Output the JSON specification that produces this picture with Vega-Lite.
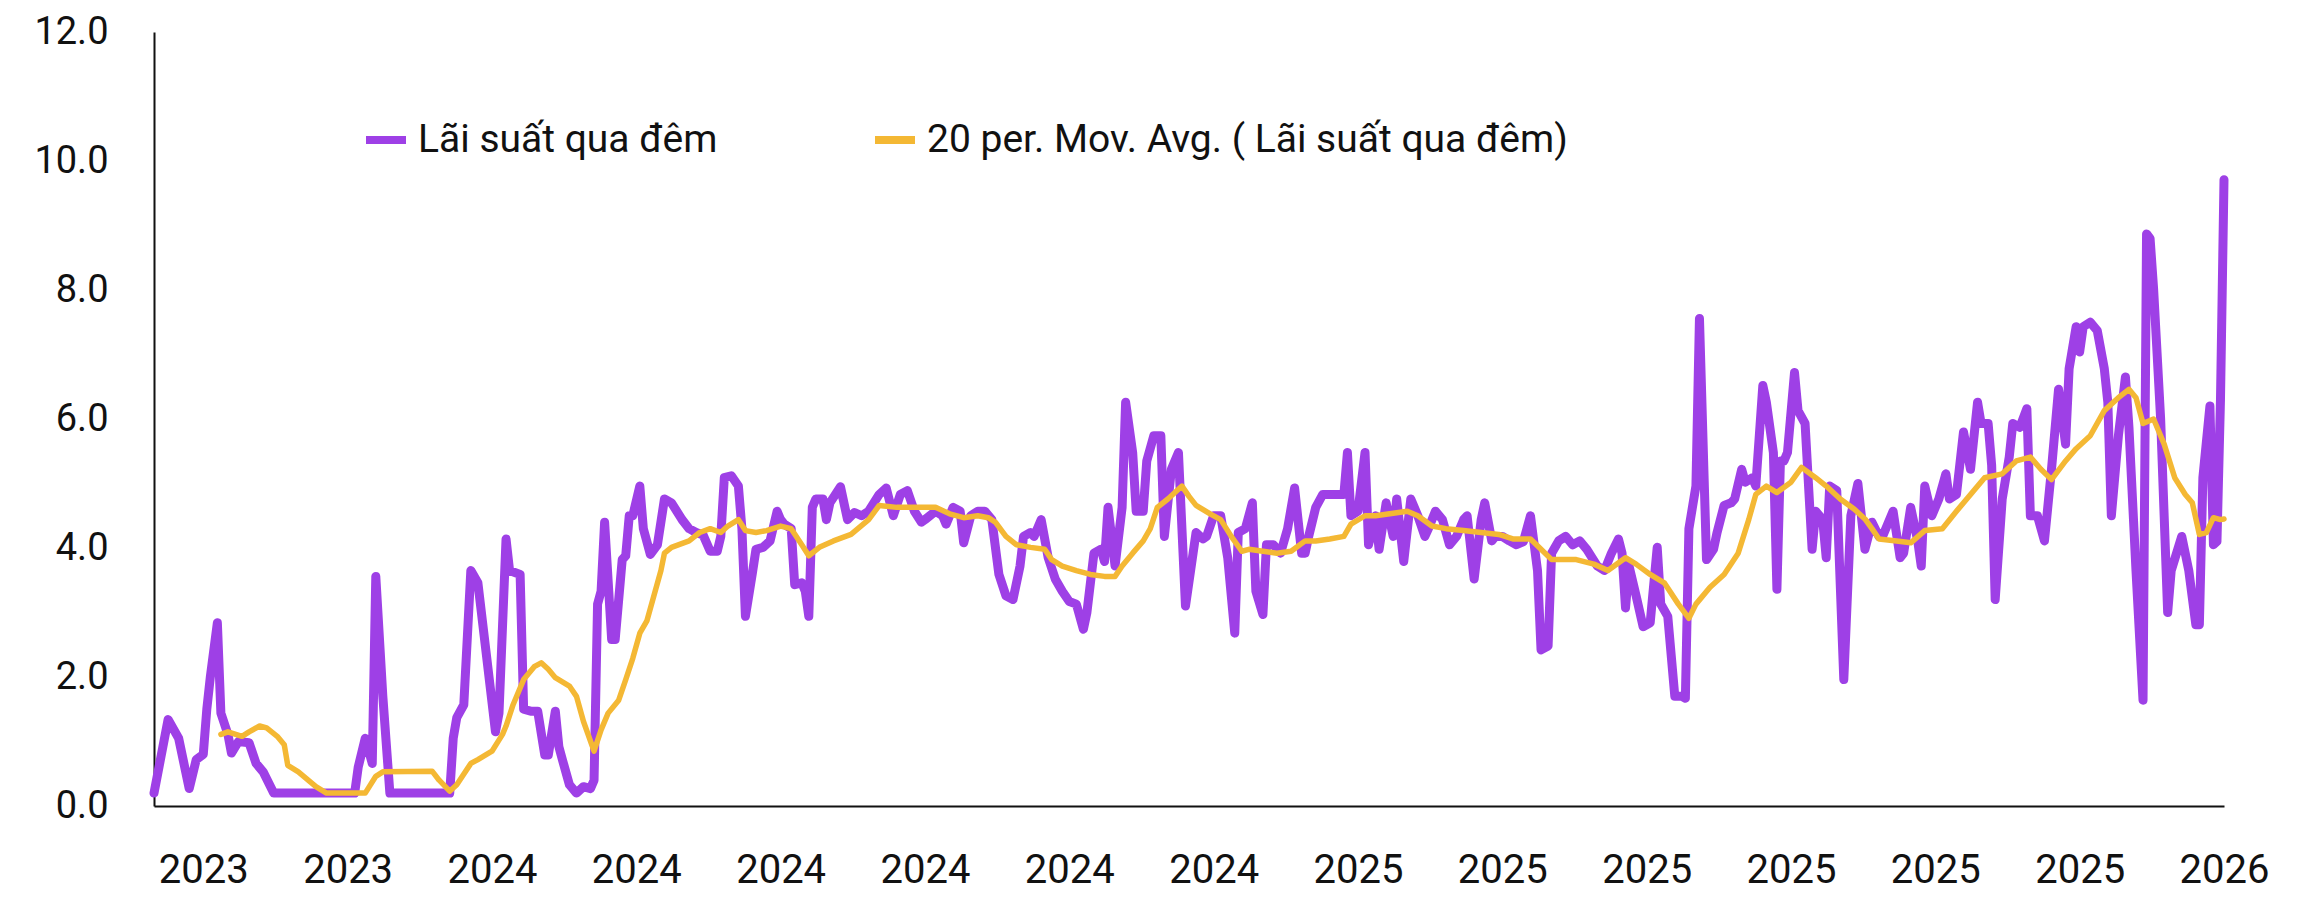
{
  "$schema": "https://vega.github.io/schema/vega-lite/v6.json",
  "width": 2070,
  "height": 774,
  "autosize": {"type": "none"},
  "padding": {"left": 154, "top": 32, "right": 77, "bottom": 95},
  "background": "white",
  "config": {
    "view": {"stroke": null},
    "axis": {"grid": false, "ticks": false, "domainColor": "#111111", "domainWidth": 2, "labelColor": "#111111", "title": null},
    "legend": {"padding": 0}
  },
  "datasets": {
    "rate": [
      {"t":0,"v":0.2},{"t":4,"v":1.34},{"t":7,"v":1.05},{"t":10,"v":0.27},{"t":12,"v":0.72},{"t":14,"v":0.8},{"t":15,"v":1.5},{"t":16,"v":2.0},{"t":18,"v":2.84},{"t":19,"v":1.44},
      {"t":21,"v":1.11},{"t":22,"v":0.82},{"t":24,"v":1.0},{"t":27,"v":0.98},{"t":29,"v":0.66},{"t":31,"v":0.53},{"t":34,"v":0.2},{"t":57,"v":0.2},{"t":58,"v":0.6},{"t":60,"v":1.05},
      {"t":62,"v":0.66},{"t":63,"v":3.56},{"t":65,"v":1.7},{"t":67,"v":0.2},{"t":84,"v":0.2},{"t":85,"v":1.05},{"t":86,"v":1.37},{"t":88,"v":1.57},{"t":90,"v":3.65},{"t":92,"v":3.46},
      {"t":97,"v":1.15},{"t":98,"v":1.44},{"t":100,"v":4.14},{"t":101,"v":3.65},{"t":104,"v":3.59},{"t":105,"v":1.5},{"t":107,"v":1.47},{"t":109,"v":1.47},{"t":111,"v":0.79},{"t":112,"v":0.79},
      {"t":114,"v":1.47},{"t":115,"v":0.92},{"t":116,"v":0.72},{"t":118,"v":0.33},{"t":120,"v":0.2},{"t":122,"v":0.3},{"t":124,"v":0.27},{"t":125,"v":0.4},{"t":126,"v":3.13},{"t":127,"v":3.33},
      {"t":128,"v":4.4},{"t":130,"v":2.58},{"t":131,"v":2.58},{"t":133,"v":3.82},{"t":134,"v":3.88},{"t":135,"v":4.5},{"t":136,"v":4.5},{"t":138,"v":4.96},{"t":139,"v":4.3},{"t":141,"v":3.9},
      {"t":143,"v":4.05},{"t":145,"v":4.76},{"t":147,"v":4.7},{"t":150,"v":4.44},{"t":152,"v":4.3},{"t":154,"v":4.24},{"t":156,"v":4.2},{"t":158,"v":3.95},{"t":160,"v":3.95},{"t":161,"v":4.18},
      {"t":162,"v":5.09},{"t":164,"v":5.12},{"t":166,"v":4.96},{"t":167,"v":4.3},{"t":168,"v":2.94},{"t":170,"v":3.62},{"t":171,"v":3.98},{"t":173,"v":4.01},{"t":175,"v":4.11},{"t":177,"v":4.57},
      {"t":178,"v":4.44},{"t":179,"v":4.37},{"t":181,"v":4.3},{"t":182,"v":3.43},{"t":184,"v":3.46},{"t":185,"v":3.33},{"t":186,"v":2.94},{"t":187,"v":4.63},{"t":188,"v":4.76},{"t":190,"v":4.76},
      {"t":191,"v":4.44},{"t":192,"v":4.7},{"t":195,"v":4.95},{"t":197,"v":4.44},{"t":199,"v":4.55},{"t":201,"v":4.5},{"t":203,"v":4.57},{"t":206,"v":4.83},{"t":208,"v":4.93},{"t":210,"v":4.5},
      {"t":212,"v":4.83},{"t":214,"v":4.89},{"t":216,"v":4.57},{"t":218,"v":4.4},{"t":219,"v":4.44},{"t":222,"v":4.57},{"t":224,"v":4.5},{"t":225,"v":4.37},{"t":227,"v":4.63},{"t":229,"v":4.57},
      {"t":230,"v":4.08},{"t":232,"v":4.5},{"t":234,"v":4.57},{"t":236,"v":4.57},{"t":238,"v":4.44},{"t":240,"v":3.59},{"t":242,"v":3.26},{"t":244,"v":3.2},{"t":246,"v":3.72},{"t":247,"v":4.18},
      {"t":249,"v":4.24},{"t":250,"v":4.18},{"t":252,"v":4.44},{"t":254,"v":3.85},{"t":256,"v":3.52},{"t":258,"v":3.33},{"t":260,"v":3.17},{"t":262,"v":3.13},{"t":264,"v":2.74},{"t":265,"v":3.0},
      {"t":267,"v":3.92},{"t":269,"v":3.98},{"t":270,"v":3.79},{"t":271,"v":4.63},{"t":273,"v":3.72},{"t":275,"v":4.63},{"t":276,"v":6.26},{"t":278,"v":5.48},{"t":279,"v":4.57},{"t":281,"v":4.57},
      {"t":282,"v":5.35},{"t":284,"v":5.74},{"t":286,"v":5.74},{"t":287,"v":4.18},{"t":289,"v":5.22},{"t":291,"v":5.48},{"t":293,"v":3.1},{"t":296,"v":4.24},{"t":298,"v":4.14},{"t":299,"v":4.18},
      {"t":301,"v":4.5},{"t":303,"v":4.5},{"t":305,"v":3.85},{"t":307,"v":2.68},{"t":308,"v":4.24},{"t":310,"v":4.3},{"t":312,"v":4.7},{"t":313,"v":3.33},{"t":315,"v":2.97},{"t":316,"v":4.05},
      {"t":318,"v":4.05},{"t":320,"v":3.92},{"t":322,"v":4.3},{"t":324,"v":4.93},{"t":326,"v":3.92},{"t":327,"v":3.92},{"t":328,"v":4.18},{"t":330,"v":4.63},{"t":332,"v":4.83},{"t":334,"v":4.83},
      {"t":336,"v":4.83},{"t":338,"v":4.83},{"t":339,"v":5.48},{"t":340,"v":4.5},{"t":342,"v":4.57},{"t":344,"v":5.48},{"t":345,"v":4.05},{"t":347,"v":4.5},{"t":348,"v":3.98},{"t":350,"v":4.7},
      {"t":352,"v":4.18},{"t":353,"v":4.76},{"t":355,"v":3.79},{"t":357,"v":4.76},{"t":359,"v":4.5},{"t":361,"v":4.18},{"t":362,"v":4.3},{"t":364,"v":4.57},{"t":366,"v":4.44},{"t":368,"v":4.05},
      {"t":370,"v":4.18},{"t":372,"v":4.44},{"t":373,"v":4.5},{"t":375,"v":3.52},{"t":377,"v":4.44},{"t":378,"v":4.7},{"t":380,"v":4.11},{"t":381,"v":4.18},{"t":383,"v":4.18},{"t":385,"v":4.11},
      {"t":387,"v":4.05},{"t":389,"v":4.1},{"t":391,"v":4.5},{"t":393,"v":3.65},{"t":394,"v":2.42},{"t":396,"v":2.48},{"t":397,"v":3.92},{"t":399,"v":4.11},{"t":401,"v":4.18},{"t":403,"v":4.05},
      {"t":405,"v":4.11},{"t":407,"v":3.98},{"t":410,"v":3.72},{"t":412,"v":3.65},{"t":414,"v":3.92},{"t":416,"v":4.14},{"t":417,"v":3.92},{"t":418,"v":3.07},{"t":419,"v":3.72},{"t":421,"v":3.26},
      {"t":423,"v":2.78},{"t":425,"v":2.84},{"t":427,"v":4.01},{"t":428,"v":3.13},{"t":430,"v":2.94},{"t":432,"v":1.7},{"t":434,"v":1.7},{"t":435,"v":1.67},{"t":436,"v":4.3},{"t":438,"v":4.96},
      {"t":439,"v":7.56},{"t":441,"v":3.82},{"t":443,"v":3.98},{"t":444,"v":4.24},{"t":446,"v":4.66},{"t":448,"v":4.7},{"t":449,"v":4.76},{"t":451,"v":5.22},{"t":452,"v":5.02},{"t":454,"v":5.09},
      {"t":455,"v":4.96},{"t":457,"v":6.52},{"t":458,"v":6.26},{"t":460,"v":5.48},{"t":461,"v":3.36},{"t":462,"v":5.35},{"t":463,"v":5.35},{"t":464,"v":5.48},{"t":466,"v":6.72},{"t":467,"v":6.13},
      {"t":469,"v":5.93},{"t":471,"v":3.98},{"t":472,"v":4.57},{"t":474,"v":4.44},{"t":475,"v":3.85},{"t":476,"v":4.96},{"t":478,"v":4.89},{"t":480,"v":1.96},{"t":482,"v":4.5},{"t":484,"v":5.0},
      {"t":486,"v":3.98},{"t":488,"v":4.4},{"t":490,"v":4.18},{"t":491,"v":4.18},{"t":494,"v":4.57},{"t":496,"v":3.85},{"t":497,"v":3.92},{"t":499,"v":4.63},{"t":501,"v":4.11},{"t":502,"v":3.72},
      {"t":503,"v":4.96},{"t":505,"v":4.5},{"t":507,"v":4.76},{"t":509,"v":5.15},{"t":510,"v":4.76},{"t":512,"v":4.83},{"t":514,"v":5.8},{"t":516,"v":5.22},{"t":518,"v":6.26},{"t":519,"v":5.93},
      {"t":521,"v":5.93},{"t":522,"v":5.28},{"t":523,"v":3.2},{"t":525,"v":4.76},{"t":527,"v":5.41},{"t":528,"v":5.93},{"t":530,"v":5.87},{"t":532,"v":6.16},{"t":533,"v":4.5},{"t":535,"v":4.5},
      {"t":537,"v":4.11},{"t":539,"v":5.22},{"t":541,"v":6.46},{"t":543,"v":5.61},{"t":544,"v":6.78},{"t":546,"v":7.43},{"t":547,"v":7.04},{"t":548,"v":7.43},{"t":550,"v":7.5},{"t":552,"v":7.37},
      {"t":554,"v":6.78},{"t":555,"v":6.26},{"t":556,"v":4.5},{"t":558,"v":5.74},{"t":560,"v":6.65},{"t":561,"v":5.87},{"t":563,"v":3.65},{"t":565,"v":1.64},{"t":566,"v":8.87},{"t":567,"v":8.8},
      {"t":568,"v":8.02},{"t":570,"v":6.0},{"t":572,"v":3.0},{"t":573,"v":3.65},{"t":576,"v":4.18},{"t":578,"v":3.65},{"t":580,"v":2.81},{"t":581,"v":2.81},{"t":582,"v":5.09},{"t":584,"v":6.2},
      {"t":585,"v":4.05},{"t":586,"v":4.1},{"t":587,"v":6.3},{"t":588,"v":9.71}
    ],
    "ma": [
      {"t":19,"v":1.11},{"t":21,"v":1.15},{"t":25,"v":1.08},{"t":27,"v":1.15},{"t":30,"v":1.24},{"t":32,"v":1.21},{"t":35,"v":1.08},{"t":37,"v":0.95},{"t":38,"v":0.63},{"t":41,"v":0.53},
      {"t":46,"v":0.3},{"t":49,"v":0.2},{"t":60,"v":0.2},{"t":63,"v":0.46},{"t":65,"v":0.53},{"t":79,"v":0.54},{"t":81,"v":0.4},{"t":84,"v":0.23},{"t":86,"v":0.33},{"t":90,"v":0.66},
      {"t":92,"v":0.72},{"t":96,"v":0.85},{"t":99,"v":1.11},{"t":100,"v":1.24},{"t":102,"v":1.57},{"t":105,"v":1.96},{"t":108,"v":2.16},{"t":110,"v":2.22},{"t":112,"v":2.12},{"t":114,"v":1.99},
      {"t":118,"v":1.86},{"t":120,"v":1.7},{"t":122,"v":1.31},{"t":125,"v":0.85},{"t":127,"v":1.18},{"t":129,"v":1.44},{"t":132,"v":1.64},{"t":134,"v":1.96},{"t":136,"v":2.29},{"t":138,"v":2.68},
      {"t":140,"v":2.87},{"t":142,"v":3.26},{"t":144,"v":3.65},{"t":145,"v":3.92},{"t":147,"v":4.01},{"t":152,"v":4.11},{"t":155,"v":4.24},{"t":158,"v":4.3},{"t":161,"v":4.24},{"t":163,"v":4.34},
      {"t":166,"v":4.44},{"t":168,"v":4.27},{"t":171,"v":4.24},{"t":174,"v":4.27},{"t":178,"v":4.34},{"t":181,"v":4.3},{"t":184,"v":4.05},{"t":186,"v":3.88},{"t":189,"v":4.01},{"t":193,"v":4.11},
      {"t":198,"v":4.21},{"t":203,"v":4.44},{"t":206,"v":4.66},{"t":211,"v":4.63},{"t":217,"v":4.63},{"t":222,"v":4.63},{"t":226,"v":4.53},{"t":230,"v":4.47},{"t":234,"v":4.5},{"t":237,"v":4.47},
      {"t":239,"v":4.4},{"t":242,"v":4.18},{"t":245,"v":4.05},{"t":249,"v":4.01},{"t":253,"v":3.98},{"t":255,"v":3.82},{"t":258,"v":3.72},{"t":262,"v":3.65},{"t":266,"v":3.59},{"t":270,"v":3.56},
      {"t":273,"v":3.56},{"t":275,"v":3.72},{"t":278,"v":3.92},{"t":281,"v":4.11},{"t":283,"v":4.3},{"t":285,"v":4.63},{"t":288,"v":4.76},{"t":292,"v":4.96},{"t":294,"v":4.8},{"t":296,"v":4.66},
      {"t":300,"v":4.53},{"t":303,"v":4.44},{"t":306,"v":4.18},{"t":309,"v":3.95},{"t":311,"v":3.98},{"t":315,"v":3.95},{"t":319,"v":3.92},{"t":323,"v":3.95},{"t":327,"v":4.11},{"t":330,"v":4.11},
      {"t":334,"v":4.14},{"t":338,"v":4.18},{"t":340,"v":4.37},{"t":344,"v":4.5},{"t":347,"v":4.5},{"t":351,"v":4.53},{"t":356,"v":4.57},{"t":359,"v":4.5},{"t":363,"v":4.34},{"t":367,"v":4.3},
      {"t":372,"v":4.27},{"t":377,"v":4.24},{"t":382,"v":4.21},{"t":386,"v":4.14},{"t":391,"v":4.14},{"t":394,"v":3.98},{"t":397,"v":3.82},{"t":404,"v":3.82},{"t":409,"v":3.75},{"t":413,"v":3.65},
      {"t":418,"v":3.85},{"t":421,"v":3.75},{"t":425,"v":3.59},{"t":429,"v":3.46},{"t":433,"v":3.13},{"t":436,"v":2.91},{"t":438,"v":3.13},{"t":442,"v":3.39},{"t":446,"v":3.59},{"t":450,"v":3.92},
      {"t":453,"v":4.44},{"t":455,"v":4.83},{"t":458,"v":4.96},{"t":461,"v":4.86},{"t":465,"v":5.02},{"t":468,"v":5.25},{"t":472,"v":5.09},{"t":475,"v":4.96},{"t":479,"v":4.76},{"t":483,"v":4.6},
      {"t":486,"v":4.45},{"t":488,"v":4.3},{"t":490,"v":4.14},{"t":495,"v":4.11},{"t":499,"v":4.08},{"t":503,"v":4.27},{"t":508,"v":4.3},{"t":512,"v":4.57},{"t":516,"v":4.83},{"t":520,"v":5.09},
      {"t":525,"v":5.15},{"t":529,"v":5.35},{"t":533,"v":5.41},{"t":536,"v":5.22},{"t":539,"v":5.06},{"t":543,"v":5.35},{"t":546,"v":5.54},{"t":550,"v":5.74},{"t":554,"v":6.13},{"t":558,"v":6.33},
      {"t":561,"v":6.46},{"t":563,"v":6.33},{"t":565,"v":5.93},{"t":568,"v":6.0},{"t":571,"v":5.61},{"t":574,"v":5.09},{"t":577,"v":4.83},{"t":579,"v":4.7},{"t":581,"v":4.21},{"t":583,"v":4.24},
      {"t":585,"v":4.47},{"t":587,"v":4.44},{"t":588,"v":4.45}
    ]
  },
  "layer": [
    {
      "data": {"name": "rate"},
      "mark": {"type": "line", "strokeWidth": 9, "strokeCap": "round", "strokeJoin": "round"},
      "encoding": {
        "x": {
          "field": "t", "type": "quantitative",
          "scale": {"domain": [0, 588], "nice": false, "zero": false},
          "axis": {
            "values": [14, 55, 96, 137, 178, 219, 260, 301, 342, 383, 424, 465, 506, 547, 588],
            "labelExpr": "datum.value < 90 ? '2023' : datum.value < 320 ? '2024' : datum.value < 580 ? '2025' : '2026'",
            "labelFont": "Roboto",
            "labelFontSize": 40,
            "labelPadding": 44,
            "labelFlush": false,
            "labelOverlap": false
          }
        },
        "y": {
          "field": "v", "type": "quantitative",
          "scale": {"domain": [0, 12], "nice": false},
          "axis": {
            "values": [0, 2, 4, 6, 8, 10, 12],
            "format": ".1f",
            "labelFont": "Roboto",
            "labelFontSize": 38,
            "labelPadding": 46,
            "labelFlush": false
          }
        },
        "color": {
          "datum": "Lãi suất qua đêm",
          "scale": {"domain": ["Lãi suất qua đêm", "20 per. Mov. Avg. ( Lãi suất qua đêm)"], "range": ["#9E40E6", "#F4B834"]},
          "legend": {
            "title": null,
            "orient": "none",
            "legendX": 208,
            "legendY": 84,
            "direction": "horizontal",
            "symbolType": "stroke",
            "symbolSize": 1600,
            "symbolStrokeWidth": 8,
            "labelFont": "Roboto",
            "labelFontSize": 39,
            "labelColor": "#111111",
            "labelOffset": 8,
            "labelLimit": 1000,
            "columnPadding": 141
          }
        }
      }
    },
    {
      "data": {"name": "ma"},
      "mark": {"type": "line", "strokeWidth": 5.5, "strokeCap": "round", "strokeJoin": "round"},
      "encoding": {
        "x": {"field": "t", "type": "quantitative"},
        "y": {"field": "v", "type": "quantitative"},
        "color": {"datum": "20 per. Mov. Avg. ( Lãi suất qua đêm)"}
      }
    }
  ]
}
